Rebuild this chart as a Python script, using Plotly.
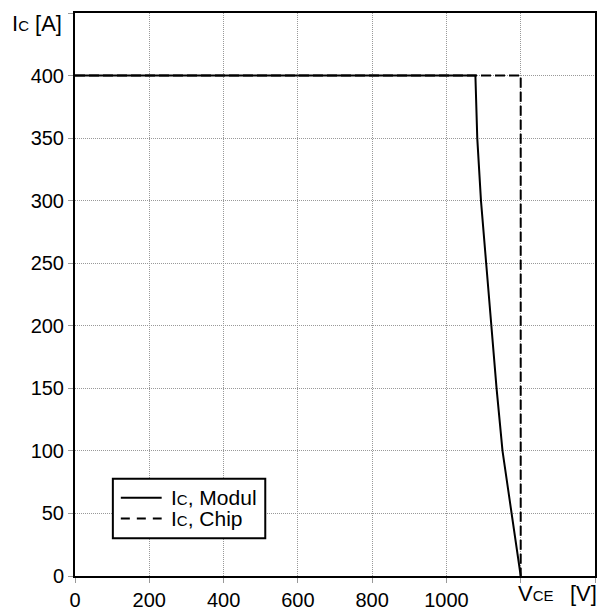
import plotly.graph_objects as go

modul_v = [0, 1078, 1083, 1093, 1107, 1120, 1135, 1151, 1175, 1200]
modul_i = [400, 400, 350, 300, 250, 200, 150, 100, 50, 0]
chip_v = [0, 1200, 1200]
chip_i = [400, 400, 0]
x_ticks = [0, 200, 400, 600, 800, 1000, 1200, 1400]
x_ticklabels = ["0", "200", "400", "600", "800", "1000", "", ""]
y_ticks = [0, 50, 100, 150, 200, 250, 300, 350, 400, 450]
y_ticklabels = ["0", "50", "100", "150", "200", "250", "300", "350", "400", ""]
legend_names = ["Modul", "Chip"]

FONT = "Liberation Sans, Arial, sans-serif"
sub = lambda s, fs=14: f"<span style='font-size:{fs}px'>{s}</span>"

L, R, T, B, W, H = 75, 3, 13, 33, 600, 614
PW, PH = W - L - R, H - T - B
px = lambda x: (x - L) / PW
py = lambda y: (H - B - y) / PH

fig = go.Figure()
fig.add_trace(go.Scatter(x=chip_v, y=chip_i, mode="lines",
                         line=dict(color="black", width=2, dash="10px,4px"),
                         showlegend=False))
fig.add_trace(go.Scatter(x=modul_v, y=modul_i, mode="lines",
                         line=dict(color="black", width=2),
                         showlegend=False))

axis_common = dict(showgrid=True, gridcolor="#999999", griddash="1px,1px", gridwidth=1,
                   showline=True, linecolor="black", linewidth=2, mirror=True,
                   ticks="outside", ticklen=5, tickcolor="#999999", tickwidth=1,
                   zeroline=False, tickfont=dict(family=FONT, size=20, color="black"))

fig.update_xaxes(range=[0, 1400], tickvals=x_ticks, ticktext=x_ticklabels, **axis_common)
fig.update_yaxes(range=[0, 450], tickvals=y_ticks, ticktext=y_ticklabels, **axis_common)

fig.add_annotation(text="I" + sub("C", 15) + " [A]", xref="paper", yref="paper", x=px(64), y=py(24),
                   xanchor="right", yanchor="middle", showarrow=False,
                   font=dict(family=FONT, size=22, color="black"))
fig.add_annotation(text="V" + sub("CE", 15), xref="x", yref="paper", x=1187, y=0,
                   xanchor="left", yanchor="top", yshift=-3, showarrow=False,
                   font=dict(family=FONT, size=22, color="black"))
fig.add_annotation(text="[V]", xref="x", yref="paper", x=1368, y=0,
                   yanchor="top", yshift=-3, showarrow=False,
                   font=dict(family=FONT, size=22, color="black"))

# manual legend
fig.add_shape(type="rect", xref="paper", yref="paper", x0=px(113), x1=px(266), y0=py(543), y1=py(483),
              line=dict(color="black", width=2), fillcolor="white", layer="above")
fig.add_shape(type="line", xref="paper", yref="paper", x0=px(121), x1=px(162), y0=py(502), y1=py(502),
              line=dict(color="black", width=2), layer="above")
fig.add_shape(type="line", xref="paper", yref="paper", x0=px(121), x1=px(162), y0=py(523), y1=py(523),
              line=dict(color="black", width=2, dash="9px,7px"), layer="above")
for name, yy in zip(legend_names, [502, 523]):
    fig.add_annotation(text="I" + sub("C", 15) + ", " + name, xref="paper", yref="paper",
                       x=px(169), y=py(yy), xanchor="left", yanchor="middle", showarrow=False,
                       font=dict(family=FONT, size=21, color="black"))

fig.update_layout(
    width=W, height=H,
    margin=dict(l=L, r=R, t=T, b=B),
    plot_bgcolor="white", paper_bgcolor="white",
    showlegend=False,
)

fig.write_html("out.html")
